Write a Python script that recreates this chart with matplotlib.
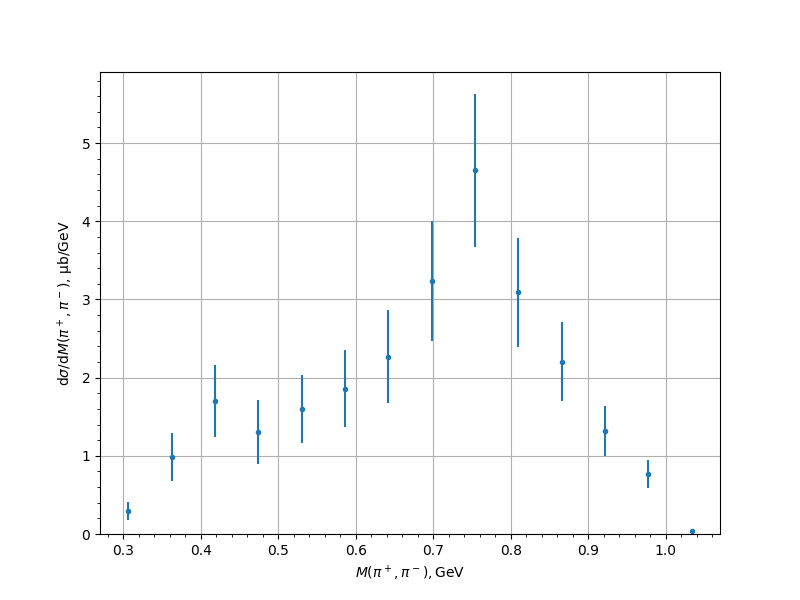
import matplotlib
matplotlib.use("Agg")
import matplotlib.pyplot as plt

mass = [0.3064, 0.363, 0.4186, 0.474, 0.531, 0.586, 0.6416, 0.698, 0.7538, 0.809, 0.866, 0.9214, 0.9768, 1.0335]
xsec = [0.295, 0.987, 1.705, 1.308, 1.60, 1.86, 2.27, 3.24, 4.65, 3.09, 2.205, 1.32, 0.77, 0.04]
err = [0.12, 0.31, 0.46, 0.41, 0.44, 0.49, 0.59, 0.77, 0.98, 0.70, 0.51, 0.32, 0.18, 0.0]

fig, ax = plt.subplots(figsize=(8, 6), dpi=100)
ax.errorbar(mass, xsec, yerr=err, fmt='.', color='#1f77b4')
ax.set_ylim(bottom=0)
ax.minorticks_on()
ax.grid(True, which='major')
ax.set_xlabel(r'$M(\pi^+,\pi^-),\mathrm{GeV}$')
ax.set_ylabel(r'd$\sigma$/d$M(\pi^+,\pi^-)$, μb/GeV')
fig.savefig('out.png', dpi=100)
